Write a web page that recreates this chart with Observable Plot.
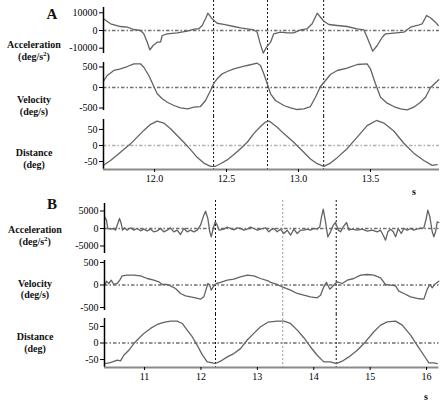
<!DOCTYPE html>
<html><head><meta charset="utf-8">
<script src="https://cdn.jsdelivr.net/npm/d3@7"></script>
<script src="https://cdn.jsdelivr.net/npm/@observablehq/plot@0.6"></script>
<style>
body{margin:0;background:#fff;}
#c{position:relative;width:448px;height:410px;font-family:"Liberation Serif","Times New Roman","DejaVu Serif",serif;overflow:hidden;}
#c svg{position:absolute;left:0;}
#c svg text{font-family:"Liberation Serif","Times New Roman","DejaVu Serif",serif !important;}
.lab{position:absolute;font-weight:bold;font-size:10px;text-align:center;line-height:12px;color:#111;white-space:nowrap;}
</style></head><body><div id="c"></div>
<script>
// ---- Panel A data: [time s, value] ----
const accA = [[11.645,6600],[11.694,3800],[11.763,2260],[11.810,1860],[11.856,560],[11.902,0],[11.925,-1860],[11.949,-6600],[11.967,-10900],[11.990,-8480],[12.018,-6600],[12.041,-6600],[12.053,-2830],[12.088,-1860],[12.157,-1300],[12.227,-400],[12.284,960],[12.307,960],[12.331,2830],[12.354,6600],[12.370,9800],[12.400,6600],[12.435,4100],[12.481,3400],[12.551,2260],[12.597,1500],[12.644,960],[12.689,400],[12.713,-960],[12.731,-6600],[12.755,-12800],[12.778,-9400],[12.806,-6600],[12.828,-1860],[12.875,-960],[12.922,-1300],[12.967,-1300],[13.014,400],[13.060,960],[13.095,3800],[13.130,9800],[13.153,7500],[13.176,5250],[13.211,3400],[13.269,2830],[13.338,2260],[13.408,960],[13.454,400],[13.477,-3800],[13.500,-8480],[13.516,-11700],[13.547,-8480],[13.582,-3800],[13.605,-1860],[13.662,-1500],[13.732,-960],[13.778,1860],[13.825,2830],[13.860,3800],[13.890,8480],[13.917,7200],[13.952,4700],[13.971,2830]];
const velA = [[11.645,154],[11.671,293],[11.717,415],[11.763,456],[11.810,512],[11.856,578],[11.902,578],[11.925,495],[11.960,293],[11.995,24],[12.018,-154],[12.053,-276],[12.088,-359],[12.134,-439],[12.180,-495],[12.231,-520],[12.273,-481],[12.319,-464],[12.354,-317],[12.389,-73],[12.412,105],[12.435,212],[12.470,334],[12.505,390],[12.551,456],[12.597,495],[12.644,537],[12.713,593],[12.736,537],[12.759,334],[12.783,90],[12.806,-154],[12.840,-317],[12.898,-439],[12.945,-495],[12.991,-537],[13.037,-520],[13.083,-464],[13.118,-237],[13.153,24],[13.188,171],[13.222,317],[13.269,415],[13.338,471],[13.408,561],[13.477,578],[13.500,456],[13.535,90],[13.570,-237],[13.616,-383],[13.662,-464],[13.709,-520],[13.755,-544],[13.801,-481],[13.848,-359],[13.883,-237],[13.917,-7],[13.945,90],[13.975,188]];
const distA = [[11.645,-62],[11.694,-47],[11.763,-21],[11.833,5],[11.879,26],[11.925,47],[11.972,66],[12.018,76],[12.064,70],[12.111,52],[12.157,31],[12.203,10],[12.250,-13],[12.296,-37],[12.342,-55],[12.389,-65],[12.423,-65],[12.458,-57],[12.505,-45],[12.551,-28],[12.597,-10],[12.644,10],[12.689,37],[12.736,59],[12.771,73],[12.794,76],[12.806,73],[12.852,57],[12.898,37],[12.967,10],[13.037,-21],[13.083,-42],[13.130,-57],[13.176,-65],[13.222,-55],[13.269,-38],[13.338,-10],[13.408,26],[13.477,62],[13.542,78],[13.593,70],[13.662,45],[13.732,7],[13.801,-24],[13.871,-47],[13.929,-62],[13.964,-60]];
const eventsA = [12.41, 12.785, 13.175];
const ticksA = [12.0, 12.5, 13.0, 13.5];

// ---- Panel B data ----
const accB = [[10.290,3340],[10.325,2380],[10.349,0],[10.396,-190],[10.455,0],[10.485,-480],[10.526,1430],[10.556,2860],[10.586,1430],[10.609,-480],[10.645,190],[10.692,-480],[10.751,190],[10.810,-480],[10.870,0],[10.928,-670],[10.987,-190],[11.047,-670],[11.106,-190],[11.164,-950],[11.224,-670],[11.283,0],[11.341,-950],[11.402,-480],[11.460,190],[11.519,-950],[11.579,-480],[11.638,-1710],[11.696,0],[11.756,-950],[11.815,-480],[11.873,-950],[11.934,-480],[11.992,950],[12.051,3810],[12.081,4960],[12.122,2860],[12.157,-950],[12.182,-2380],[12.217,0],[12.253,1910],[12.288,950],[12.324,-480],[12.405,-190],[12.464,380],[12.524,0],[12.584,-380],[12.643,190],[12.701,0],[12.760,-480],[12.820,-190],[12.880,380],[12.938,0],[13.000,-480],[13.056,-190],[13.145,190],[13.203,-950],[13.233,-480],[13.292,0],[13.352,-950],[13.410,-190],[13.469,-1430],[13.529,-480],[13.588,-1910],[13.646,-190],[13.707,-1430],[13.765,-480],[13.824,-480],[13.884,-190],[13.942,-480],[14.001,0],[14.061,-190],[14.107,480],[14.137,3340],[14.168,5530],[14.208,1910],[14.249,-2380],[14.297,-950],[14.345,950],[14.386,1710],[14.434,-480],[14.474,-950],[14.522,480],[14.581,1710],[14.622,-480],[14.682,-190],[14.771,-480],[14.859,-190],[14.948,-760],[15.036,-480],[15.125,-950],[15.184,-480],[15.231,-1910],[15.272,-3340],[15.313,-950],[15.361,-190],[15.409,-950],[15.450,-2380],[15.497,0],[15.551,-1430],[15.597,0],[15.657,-480],[15.716,0],[15.774,-480],[15.863,0],[15.952,190],[15.994,2860],[16.022,5240],[16.058,3340],[16.100,-950],[16.129,-2380],[16.159,-950],[16.189,1910],[16.217,1720]];
const velB = [[10.290,-20],[10.325,85],[10.366,33],[10.409,107],[10.455,11],[10.515,33],[10.561,107],[10.604,204],[10.692,219],[10.810,219],[10.928,204],[11.047,144],[11.164,107],[11.253,70],[11.313,11],[11.402,11],[11.460,-19],[11.549,-78],[11.638,-189],[11.726,-241],[11.815,-263],[11.903,-285],[11.992,-315],[12.051,-263],[12.093,-93],[12.122,33],[12.152,11],[12.182,-115],[12.228,-19],[12.276,33],[12.347,56],[12.466,107],[12.583,130],[12.701,181],[12.820,219],[12.937,204],[13.056,144],[13.203,85],[13.233,56],[13.352,11],[13.441,-41],[13.588,-115],[13.707,-189],[13.824,-226],[13.942,-263],[14.061,-285],[14.120,-226],[14.178,-41],[14.226,56],[14.285,-93],[14.345,-19],[14.416,70],[14.504,33],[14.593,107],[14.710,144],[14.829,219],[14.948,233],[15.065,219],[15.184,159],[15.272,11],[15.361,-4],[15.450,-19],[15.508,-137],[15.597,-189],[15.716,-263],[15.834,-300],[15.951,-315],[16.012,-93],[16.058,11],[16.100,-63],[16.141,11],[16.217,85]];
const distB = [[10.290,-62],[10.396,-59],[10.515,-52],[10.574,-54],[10.632,-37],[10.721,-22],[10.810,-2],[10.870,9],[10.987,29],[11.106,44],[11.224,56],[11.341,62],[11.460,66],[11.579,66],[11.668,59],[11.756,39],[11.845,19],[11.934,-7],[12.022,-35],[12.111,-57],[12.182,-59],[12.258,-62],[12.347,-55],[12.466,-42],[12.583,-32],[12.701,-17],[12.820,9],[12.937,29],[13.056,49],[13.203,64],[13.233,64],[13.352,66],[13.469,66],[13.588,59],[13.707,39],[13.824,16],[13.942,-12],[14.061,-37],[14.178,-57],[14.297,-57],[14.398,-62],[14.504,-55],[14.622,-42],[14.771,-22],[14.918,4],[15.065,34],[15.184,54],[15.303,64],[15.450,66],[15.568,54],[15.716,24],[15.834,-7],[15.951,-37],[16.040,-60],[16.129,-60],[16.189,-62]];
const eventsB = [12.258, 13.45, 14.398];
const eventsBStyle = ["#111", "#999", "#111"];
const ticksB = [11, 12, 13, 14, 15, 16];

const cont = document.getElementById("c");
const FONT = "'Liberation Serif','Times New Roman','DejaVu Serif',serif";

function sub(o) {
  const marks = [
    Plot.ruleY([0], {stroke: o.zc, strokeWidth: 1.5, strokeDasharray: "3.5,2,1.5,2"}),
    ...o.ev.map((t, i) => Plot.ruleX([t], {stroke: o.evc[i], strokeWidth: 1, strokeDasharray: "2,2", insetTop: -o.extTop, insetBottom: -o.extBot})),
    Plot.line(o.data, {x: d => d[0], y: d => d[1], stroke: "#636363", strokeWidth: 1.3}),
    Plot.ruleX([o.X.dom[0]], {stroke: "#000", strokeWidth: 1.5}),
    Plot.axisY(o.yticks, {tickFormat: d => String(d), tickSize: 4, tickPadding: 2, fontSize: 10})
  ];
  if (o.bottom) {
    marks.push(Plot.ruleY([o.ydom[0]], {stroke: "#8a8a8a", strokeWidth: 2}));
    marks.push(Plot.axisX(o.X.ticks, {tickFormat: o.X.fmt, tickSize: 3, tickPadding: 2, fontSize: 10}));
  }
  const svg = Plot.plot({
    width: 448, height: o.h,
    marginTop: o.mt, marginBottom: o.mb, marginLeft: o.X.ml, marginRight: o.X.mr,
    x: o.bottom ? {domain: o.X.dom} : {domain: o.X.dom, axis: null},
    y: {domain: o.ydom},
    style: {fontFamily: FONT, fontSize: "10px", background: "transparent", overflow: "visible"},
    marks
  });
  svg.style.position = "absolute";
  svg.style.top = o.top + "px";
  svg.style.left = "0px";
  cont.appendChild(svg);
}

const XA = {dom: [11.645, 13.98], ml: 103, mr: 9, ticks: ticksA, fmt: d => d.toFixed(1)};
const XB = {dom: [10.29, 16.22], ml: 104, mr: 9.5, ticks: ticksB, fmt: d => String(d)};
const evcA = ["#111", "#111", "#111"];

sub({top: 0, h: 58, mt: 7, mb: 5, X: XA, ydom: [-13000, 13000], yticks: [-10000, 0, 10000], data: accA, ev: eventsA, evc: evcA, extTop: 7, extBot: 5, zc: "#707070"});
sub({top: 58, h: 58, mt: 4, mb: 6, X: XA, ydom: [-561, 610], yticks: [-500, 0, 500], data: velA, ev: eventsA, evc: evcA, extTop: 4, extBot: 6, zc: "#707070"});
sub({top: 116, h: 82, mt: 3, mb: 29, X: XA, ydom: [-75, 81], yticks: [-50, 0, 50], data: distA, ev: eventsA, evc: evcA, extTop: 3, extBot: 0, zc: "#b0b0b0", bottom: true});

sub({top: 198, h: 58, mt: 5, mb: 3, X: XB, ydom: [-7140, 7140], yticks: [-5000, 0, 5000], data: accB, ev: eventsB, evc: eventsBStyle, extTop: 3, extBot: 3, zc: "#707070"});
sub({top: 256, h: 58, mt: 4, mb: 4, X: XB, ydom: [-567, 544], yticks: [-500, 0, 500], data: velB, ev: eventsB, evc: eventsBStyle, extTop: 4, extBot: 4, zc: "#707070"});
sub({top: 314, h: 86, mt: 4, mb: 33, X: XB, ydom: [-74, 74], yticks: [-50, 0, 50], data: distB, ev: eventsB, evc: eventsBStyle, extTop: 4, extBot: 0, zc: "#707070", bottom: true});

function lab(html, cx, cy, size) {
  const d = document.createElement("div");
  d.className = "lab";
  d.innerHTML = html;
  d.style.fontSize = (size || 10) + "px";
  d.style.left = (cx - 40) + "px";
  d.style.width = "80px";
  d.style.top = (cy - 6) + "px";
  cont.appendChild(d);
}
lab("A", 52, 14, 15);
lab("Acceleration", 34, 45); lab("(deg/s<sup style='font-size:7px;line-height:0'>2</sup>)", 34, 57);
lab("Velocity", 34, 100); lab("(deg/s)", 34, 112);
lab("Distance", 34, 153); lab("(deg)", 34, 165);
lab("s", 414, 192);
lab("B", 52, 204, 15);
lab("Acceleration", 35, 230); lab("(deg/s<sup style='font-size:7px;line-height:0'>2</sup>)", 35, 242);
lab("Velocity", 35, 284); lab("(deg/s)", 35, 295);
lab("Distance", 35, 337); lab("(deg)", 35, 349);
lab("s", 426, 397);
</script></body></html>
